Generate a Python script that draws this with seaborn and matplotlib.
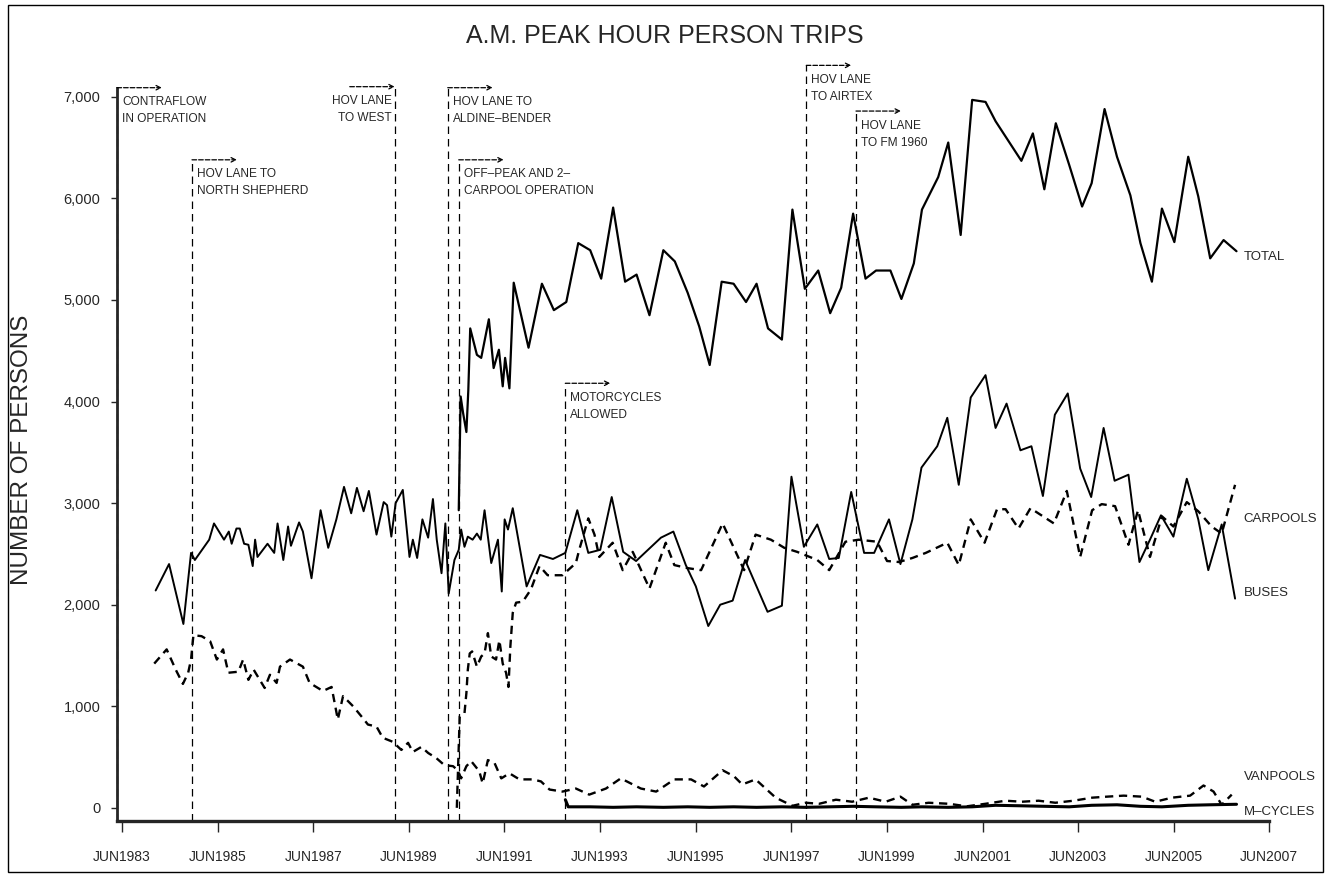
import pandas as pd
import matplotlib
matplotlib.use("Agg")
import matplotlib.pyplot as plt
from matplotlib.patches import Rectangle
import seaborn as sns

sns.set_style("white")
plt.rcParams['font.family'] = ['Liberation Sans', 'DejaVu Sans']

# survey dates (decimal years) and persons in the a.m. peak hour
total_year = [1990.46, 1990.50, 1990.55, 1990.62, 1990.66, 1990.70, 1990.84, 1990.93, 1991.09, 1991.19,
              1991.30, 1991.38, 1991.43, 1991.52, 1991.61, 1991.92, 1992.20, 1992.45, 1992.71, 1992.96,
              1993.21, 1993.44, 1993.69, 1993.94, 1994.18, 1994.45, 1994.74, 1994.98, 1995.25, 1995.49,
              1995.71, 1995.96, 1996.21, 1996.47, 1996.69, 1996.93, 1997.22, 1997.44, 1997.70, 1997.98,
              1998.23, 1998.46, 1998.71, 1998.97, 1999.19, 1999.49, 1999.72, 1999.98, 2000.15, 2000.49,
              2000.70, 2000.96, 2001.20, 2001.48, 2001.69, 2002.23, 2002.47, 2002.71, 2002.95, 2003.23,
              2003.50, 2003.70, 2003.97, 2004.23, 2004.51, 2004.72, 2004.96, 2005.17, 2005.43, 2005.72,
              2005.93, 2006.18, 2006.46, 2006.73]
total_val = [2930, 4050, 3890, 3700, 4110, 4720, 4460, 4430, 4810, 4330,
             4510, 4150, 4430, 4130, 5170, 4530, 5160, 4900, 4980, 5560,
             5490, 5210, 5910, 5180, 5250, 4850, 5490, 5380, 5070, 4740,
             4360, 5180, 5160, 4980, 5160, 4720, 4610, 5890, 5110, 5290,
             4870, 5120, 5850, 5210, 5290, 5290, 5010, 5360, 5890, 6210,
             6550, 5640, 6970, 6950, 6760, 6370, 6640, 6090, 6740, 6330,
             5920, 6150, 6880, 6410, 6030, 5560, 5180, 5900, 5570, 6410,
             6020, 5410, 5590, 5480]

buses_year = [1984.12, 1984.40, 1984.70, 1984.86, 1984.94, 1985.24, 1985.34, 1985.55, 1985.65, 1985.71,
              1985.81, 1985.88, 1985.97, 1986.06, 1986.15, 1986.20, 1986.25, 1986.46, 1986.60, 1986.67,
              1986.79, 1986.89, 1986.95, 1987.12, 1987.20, 1987.38, 1987.57, 1987.73, 1987.90, 1988.06,
              1988.21, 1988.33, 1988.47, 1988.58, 1988.74, 1988.89, 1988.96, 1989.05, 1989.14, 1989.29,
              1989.43, 1989.50, 1989.59, 1989.70, 1989.82, 1989.92, 1990.00, 1990.10, 1990.18, 1990.25,
              1990.37, 1990.46, 1990.51, 1990.58, 1990.65, 1990.75, 1990.84, 1990.92, 1991.00, 1991.14,
              1991.28, 1991.36, 1991.42, 1991.49, 1991.59, 1991.88, 1992.16, 1992.43, 1992.69, 1992.94,
              1993.17, 1993.42, 1993.66, 1993.90, 1994.17, 1994.69, 1994.95, 1995.21, 1995.42, 1995.68,
              1995.93, 1996.19, 1996.45, 1996.92, 1997.22, 1997.42, 1997.68, 1997.96, 1998.21, 1998.41,
              1998.67, 1998.94, 1999.15, 1999.46, 1999.70, 1999.95, 2000.14, 2000.47, 2000.68, 2000.92,
              2001.17, 2001.48, 2001.69, 2001.92, 2002.21, 2002.44, 2002.68, 2002.93, 2003.20, 2003.46,
              2003.69, 2003.95, 2004.18, 2004.47, 2004.70, 2004.92, 2005.15, 2005.41, 2005.69, 2005.93,
              2006.14, 2006.42, 2006.70]
buses_val = [2140, 2400, 1810, 2510, 2440, 2640, 2800, 2640, 2720, 2600,
             2750, 2750, 2600, 2590, 2380, 2640, 2470, 2600, 2510, 2800,
             2440, 2770, 2580, 2810, 2720, 2260, 2930, 2560, 2840, 3160,
             2900, 3150, 2920, 3120, 2690, 3010, 2980, 2670, 3000, 3130,
             2470, 2640, 2460, 2840, 2660, 3040, 2640, 2310, 2800, 2110,
             2440, 2540, 2740, 2570, 2670, 2640, 2700, 2640, 2930, 2410,
             2640, 2130, 2840, 2740, 2950, 2180, 2490, 2450, 2510, 2930,
             2510, 2540, 3060, 2520, 2430, 2660, 2720, 2390, 2180, 1790,
             2000, 2040, 2440, 1930, 1990, 3260, 2570, 2790, 2450, 2460,
             3110, 2510, 2510, 2840, 2400, 2840, 3350, 3560, 3840, 3180,
             4040, 4260, 3740, 3980, 3520, 3560, 3070, 3870, 4080, 3340,
             3060, 3740, 3220, 3280, 2420, 2640, 2880, 2670, 3240, 2840,
             2340, 2790, 2060]

carpools_year = [1990.42, 1990.48, 1990.58, 1990.62, 1990.65, 1990.69, 1990.74, 1990.84, 1990.93, 1991.00,
                 1991.07, 1991.14, 1991.24, 1991.31, 1991.38, 1991.45, 1991.50, 1991.54, 1991.59, 1991.66,
                 1991.80, 1991.97, 1992.15, 1992.32, 1992.63, 1992.91, 1992.98, 1993.17, 1993.30, 1993.40,
                 1993.68, 1993.89, 1994.10, 1994.45, 1994.79, 1994.97, 1995.25, 1995.53, 1995.98, 1996.43,
                 1996.67, 1996.99, 1997.27, 1997.54, 1997.96, 1998.21, 1998.55, 1998.83, 1999.21, 1999.42,
                 1999.67, 1999.95, 2000.23, 2000.68, 2000.92, 2001.17, 2001.46, 2001.72, 2001.90, 2002.17,
                 2002.42, 2002.91, 2003.18, 2003.46, 2003.71, 2003.91, 2004.19, 2004.47, 2004.67, 2004.92,
                 2005.17, 2005.41, 2005.69, 2005.93, 2006.21, 2006.42, 2006.70]
carpools_val = [0, 900, 930, 1130, 1360, 1520, 1540, 1390, 1490, 1520,
                1720, 1490, 1460, 1650, 1420, 1330, 1190, 1590, 1920, 2020,
                2030, 2150, 2380, 2290, 2290, 2410, 2540, 2850, 2690, 2470,
                2610, 2340, 2520, 2160, 2610, 2390, 2360, 2340, 2800, 2340,
                2690, 2640, 2560, 2520, 2440, 2340, 2620, 2640, 2620, 2430,
                2420, 2460, 2510, 2610, 2390, 2840, 2610, 2940, 2940, 2750,
                2950, 2800, 3120, 2470, 2930, 2990, 2970, 2590, 2930, 2470,
                2870, 2770, 3010, 2920, 2770, 2700, 3180]

vanpools_year = [1984.09, 1984.35, 1984.54, 1984.69, 1984.80, 1984.86, 1984.91, 1985.08, 1985.26, 1985.40,
                 1985.53, 1985.64, 1985.85, 1985.95, 1986.06, 1986.17, 1986.40, 1986.51, 1986.65, 1986.72,
                 1986.93, 1987.20, 1987.34, 1987.62, 1987.80, 1987.93, 1988.04, 1988.25, 1988.46, 1988.56,
                 1988.74, 1988.87, 1989.08, 1989.26, 1989.40, 1989.50, 1989.68, 1989.82, 1989.99, 1990.16,
                 1990.34, 1990.44, 1990.51, 1990.62, 1990.72, 1990.89, 1990.96, 1991.07, 1991.21, 1991.35,
                 1991.52, 1991.73, 1992.01, 1992.18, 1992.36, 1992.63, 1992.91, 1993.19, 1993.54, 1993.85,
                 1994.27, 1994.59, 1994.97, 1995.32, 1995.59, 1995.98, 1996.22, 1996.39, 1996.67, 1997.09,
                 1997.44, 1997.72, 1998.00, 1998.35, 1998.69, 1999.04, 1999.39, 1999.70, 1999.95, 2000.29,
                 2000.71, 2001.09, 2001.48, 2001.90, 2002.24, 2002.59, 2002.94, 2003.32, 2003.71, 2004.02,
                 2004.37, 2004.75, 2005.03, 2005.38, 2005.76, 2006.04, 2006.25, 2006.42, 2006.63]
vanpools_val = [1420, 1560, 1360, 1220, 1330, 1460, 1700, 1690, 1640, 1460,
                1560, 1330, 1340, 1460, 1260, 1360, 1180, 1310, 1230, 1390,
                1460, 1390, 1230, 1150, 1190, 870, 1100, 1000, 880, 820,
                800, 690, 650, 570, 640, 550, 600, 540, 490, 420,
                410, 370, 290, 410, 460, 360, 240, 470, 440, 290,
                340, 280, 280, 260, 180, 160, 190, 130, 190, 290,
                190, 160, 280, 280, 210, 370, 310, 230, 280, 100,
                20, 50, 40, 80, 60, 100, 60, 110, 30, 50,
                40, 15, 40, 70, 60, 70, 50, 70, 100, 110,
                120, 110, 60, 100, 120, 220, 160, 30, 130]

mcycles_year = [1992.69, 1992.75, 1993.21, 1993.69, 1994.18, 1994.74, 1995.25, 1995.71, 1996.21, 1996.69,
                1997.22, 1997.70, 1998.23, 1998.71, 1999.19, 1999.72, 2000.15, 2000.70, 2001.20, 2001.69,
                2002.23, 2002.71, 2003.23, 2003.70, 2004.23, 2004.72, 2005.17, 2005.72, 2006.18, 2006.73]
mcycles_val = [80, 10, 10, 5, 10, 5, 10, 5, 10, 5,
               10, 5, 10, 15, 10, 5, 10, 5, 10, 25,
               20, 15, 10, 25, 30, 15, 10, 25, 30, 35]

series_names = ['TOTAL', 'CARPOOLS', 'BUSES', 'VANPOOLS', 'M–CYCLES']
series_label_y = [5420, 2840, 2120, 300, -40]

# HOV lane milestones
event_year = [1983.31, 1984.88, 1989.12, 1990.23, 1990.46, 1992.69, 1997.73, 1998.77]
event_labels = ['CONTRAFLOW\nIN OPERATION', 'HOV LANE TO\nNORTH SHEPHERD', 'HOV LANE\nTO WEST',
                'HOV LANE TO\nALDINE–BENDER', 'OFF–PEAK AND 2–\nCARPOOL OPERATION',
                'MOTORCYCLES\nALLOWED', 'HOV LANE\nTO AIRTEX', 'HOV LANE\nTO FM 1960']
event_top = [7090, 6380, 7100, 7090, 6380, 4180, 7310, 6860]

tick_years = list(range(1983, 2008, 2))

YMIN, YMAX = -130, 7500
XMIN, XMAX = 1983.31, 2007.45


def draw_series(ax):
    dash = (0, (3.5, 2.4))
    specs = [(total_year, total_val, '-', 1.6),
             (carpools_year, carpools_val, dash, 1.7),
             (buses_year, buses_val, '-', 1.4),
             (vanpools_year, vanpools_val, dash, 1.7),
             (mcycles_year, mcycles_val, '-', 2.2)]
    for name, (xs, ys, ls, lw) in zip(series_names, specs):
        df = pd.DataFrame({'year': xs, 'persons': ys})
        sns.lineplot(data=df, x='year', y='persons', color='black', linestyle=ls,
                     linewidth=lw, estimator=None, sort=False, ax=ax)
    for name, yv in zip(series_names, series_label_y):
        ax.text(2006.88, yv, name, fontsize=9.5, va='center', ha='left')


def draw_events(ax):
    yr_per_px = 1 / 47.875
    for yr, lab, top in zip(event_year, event_labels, event_top):
        ax.plot([yr, yr], [YMIN, top], color='black', lw=0.9, ls=(0, (6, 4)), clip_on=False)
        if lab.startswith('HOV LANE\nTO WEST'):
            x0, x1 = yr - 45 * yr_per_px, yr
            tx, ha = yr - 3 * yr_per_px, 'right'
        else:
            x0, x1 = yr, yr + 45 * yr_per_px
            tx, ha = yr + 5 * yr_per_px, 'left'
        ax.annotate('', xy=(x1, top), xytext=(x0, top),
                    arrowprops=dict(arrowstyle='->', lw=0.9, ls='--', color='black',
                                    shrinkA=0, shrinkB=0, mutation_scale=8))
        ax.text(tx, top - 85, lab, fontsize=8.6, ha=ha, va='top', linespacing=1.55)


def main():
    fig = plt.figure(figsize=(13.35, 8.74), dpi=100)
    ax = fig.add_axes([0.0876, 0.0606, 0.8644, 0.8867])

    draw_series(ax)
    draw_events(ax)

    ax.set_xlim(XMIN, XMAX)
    ax.set_ylim(YMIN, YMAX)
    ax.set_xlabel('')
    ax.set_ylabel('')
    ticks = [y + 5 / 12 for y in tick_years]
    ax.set_xticks(ticks)
    ax.set_xticklabels(['JUN{}'.format(y) for y in tick_years], fontsize=10)
    ax.set_yticks(range(0, 8000, 1000))
    ax.set_yticklabels(['0' if v == 0 else '{:,}'.format(v) for v in range(0, 8000, 1000)],
                       fontsize=10.5)
    ax.tick_params(axis='x', direction='out', length=8, width=1, pad=13, bottom=True)
    ax.tick_params(axis='y', direction='out', length=4, width=1, pad=8, left=True)
    for side in ['top', 'right']:
        ax.spines[side].set_visible(False)
    ax.spines['left'].set_linewidth(2)
    ax.spines['left'].set_bounds(YMIN, 7090)
    ax.spines['bottom'].set_linewidth(2.4)
    ax.spines['bottom'].set_bounds(XMIN, 2007.42)

    fig.text(0.498, 0.959, 'A.M. PEAK HOUR PERSON TRIPS', ha='center', va='center',
             fontsize=18)
    fig.text(0.0165, 0.485, 'NUMBER OF PERSONS', rotation=90, ha='center', va='center',
             fontsize=17.5)
    fig.patches.append(Rectangle((0.006, 0.002), 0.985, 0.992, transform=fig.transFigure,
                                 fill=False, lw=1, edgecolor='black'))

    fig.savefig('out.png', dpi=100)


if __name__ == '__main__':
    main()
